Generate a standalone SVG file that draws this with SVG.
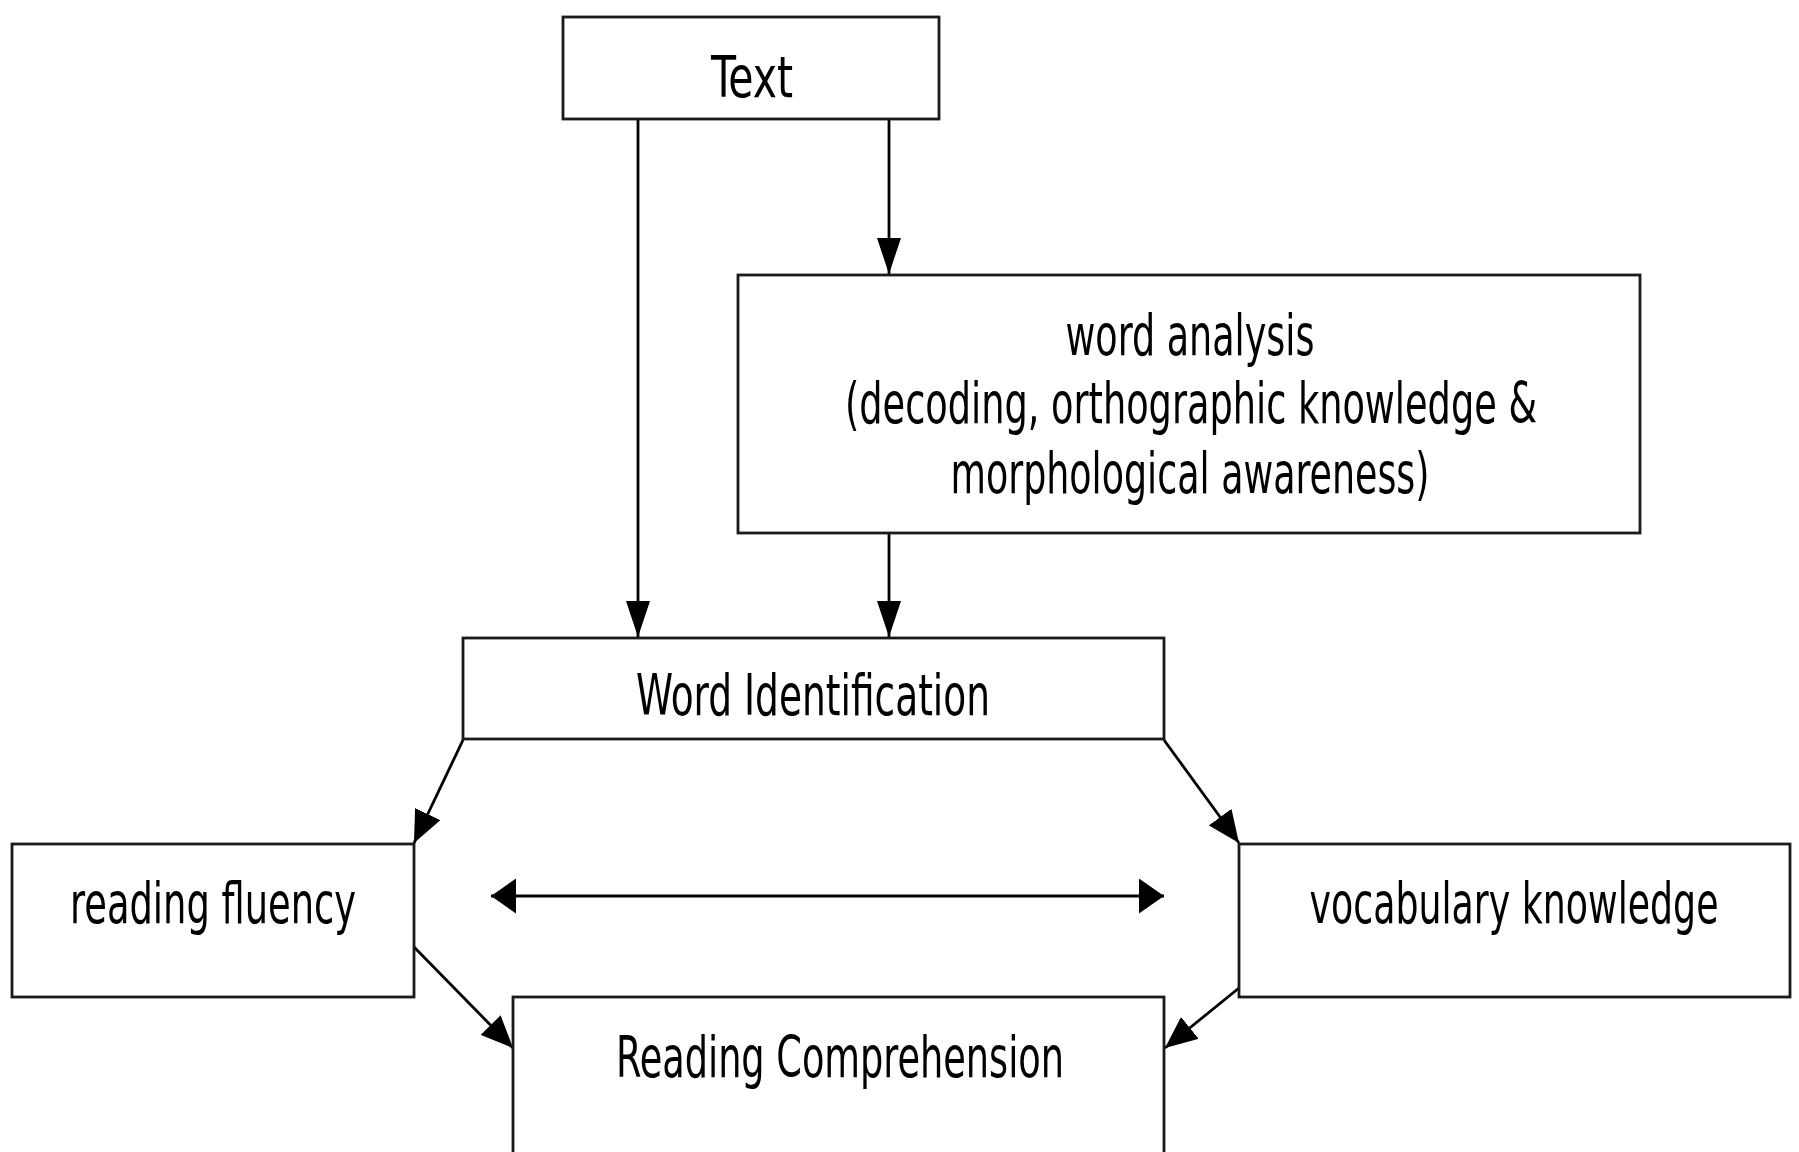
<svg xmlns="http://www.w3.org/2000/svg" width="1799" height="1152" viewBox="0 0 1799 1152">
  <style>
    .box { fill: #ffffff; stroke: #1a1a1a; stroke-width: 2.8; }
    .lbl { font-family: 'DejaVu Sans Condensed', 'DejaVu Sans', 'Liberation Sans', sans-serif; font-size: 40px; fill: #000; text-anchor: middle; }
    .con { fill: none; stroke: #000; stroke-width: 2.8; }
  </style>
  <defs>
    <marker id="ah-v" viewBox="0 0 36 24" markerWidth="36" markerHeight="24" refX="36" refY="12" orient="auto" markerUnits="userSpaceOnUse">
      <path d="M0,0 L36,12 L0,24 Z" fill="#000"/>
    </marker>
    <marker id="ah-h" viewBox="0 0 25 35" markerWidth="25" markerHeight="35" refX="25" refY="17.5" orient="auto-start-reverse" markerUnits="userSpaceOnUse">
      <path d="M0,0 L25,17.5 L0,35 Z" fill="#000"/>
    </marker>
    <marker id="ah-d" viewBox="0 0 32 28" markerWidth="32" markerHeight="28" refX="32" refY="14" orient="auto" markerUnits="userSpaceOnUse">
      <path d="M0,0 L32,14 L0,28 Z" fill="#000"/>
    </marker>
  </defs>

  <rect width="1799" height="1152" fill="#ffffff"/>

  <g id="connectors">
    <path class="con" d="M638,119 L638,637" marker-end="url(#ah-v)"/>
    <path class="con" d="M889,119 L889,274" marker-end="url(#ah-v)"/>
    <path class="con" d="M889,533 L889,637" marker-end="url(#ah-v)"/>
    <path class="con" d="M463,740 L414,843" marker-end="url(#ah-d)"/>
    <path class="con" d="M1164,740 L1239,843" marker-end="url(#ah-d)"/>
    <path class="con" d="M491,896 L1164,896" marker-start="url(#ah-h)" marker-end="url(#ah-h)"/>
    <path class="con" d="M414,947 L513,1048" marker-end="url(#ah-d)"/>
    <path class="con" d="M1239,988 L1165,1048" marker-end="url(#ah-d)"/>
  </g>

  <g id="node-text">
    <rect class="box" x="563" y="17" width="376" height="102"/>
    <text class="lbl" transform="translate(752,97) scale(1,1.43)" x="0" y="0" textLength="82" lengthAdjust="spacingAndGlyphs">Text</text>
  </g>

  <g id="node-word-analysis">
    <rect class="box" x="738" y="275" width="902" height="258"/>
    <text class="lbl" transform="translate(1190,355) scale(1,1.43)" x="0" y="0" textLength="249" lengthAdjust="spacingAndGlyphs">word analysis</text>
    <text class="lbl" transform="translate(1191,423) scale(1,1.43)" x="0" y="0" textLength="692" lengthAdjust="spacingAndGlyphs">(decoding, orthographic knowledge &amp;</text>
    <text class="lbl" transform="translate(1190,493) scale(1,1.43)" x="0" y="0" textLength="479" lengthAdjust="spacingAndGlyphs">morphological awareness)</text>
  </g>

  <g id="node-word-identification">
    <rect class="box" x="463" y="638" width="701" height="101"/>
    <text class="lbl" transform="translate(813,715) scale(1,1.43)" x="0" y="0" textLength="354" lengthAdjust="spacingAndGlyphs">Word Identification</text>
  </g>

  <g id="node-reading-fluency">
    <rect class="box" x="12" y="844" width="402" height="153"/>
    <text class="lbl" transform="translate(213,923) scale(1,1.43)" x="0" y="0" textLength="286" lengthAdjust="spacingAndGlyphs">reading fluency</text>
  </g>

  <g id="node-vocabulary-knowledge">
    <rect class="box" x="1239" y="844" width="551" height="153"/>
    <text class="lbl" transform="translate(1514,923) scale(1,1.43)" x="0" y="0" textLength="409" lengthAdjust="spacingAndGlyphs">vocabulary knowledge</text>
  </g>

  <g id="node-reading-comprehension">
    <rect class="box" x="513" y="997" width="651" height="170"/>
    <text class="lbl" transform="translate(840,1077) scale(1,1.43)" x="0" y="0" textLength="448" lengthAdjust="spacingAndGlyphs">Reading Comprehension</text>
  </g>
</svg>
